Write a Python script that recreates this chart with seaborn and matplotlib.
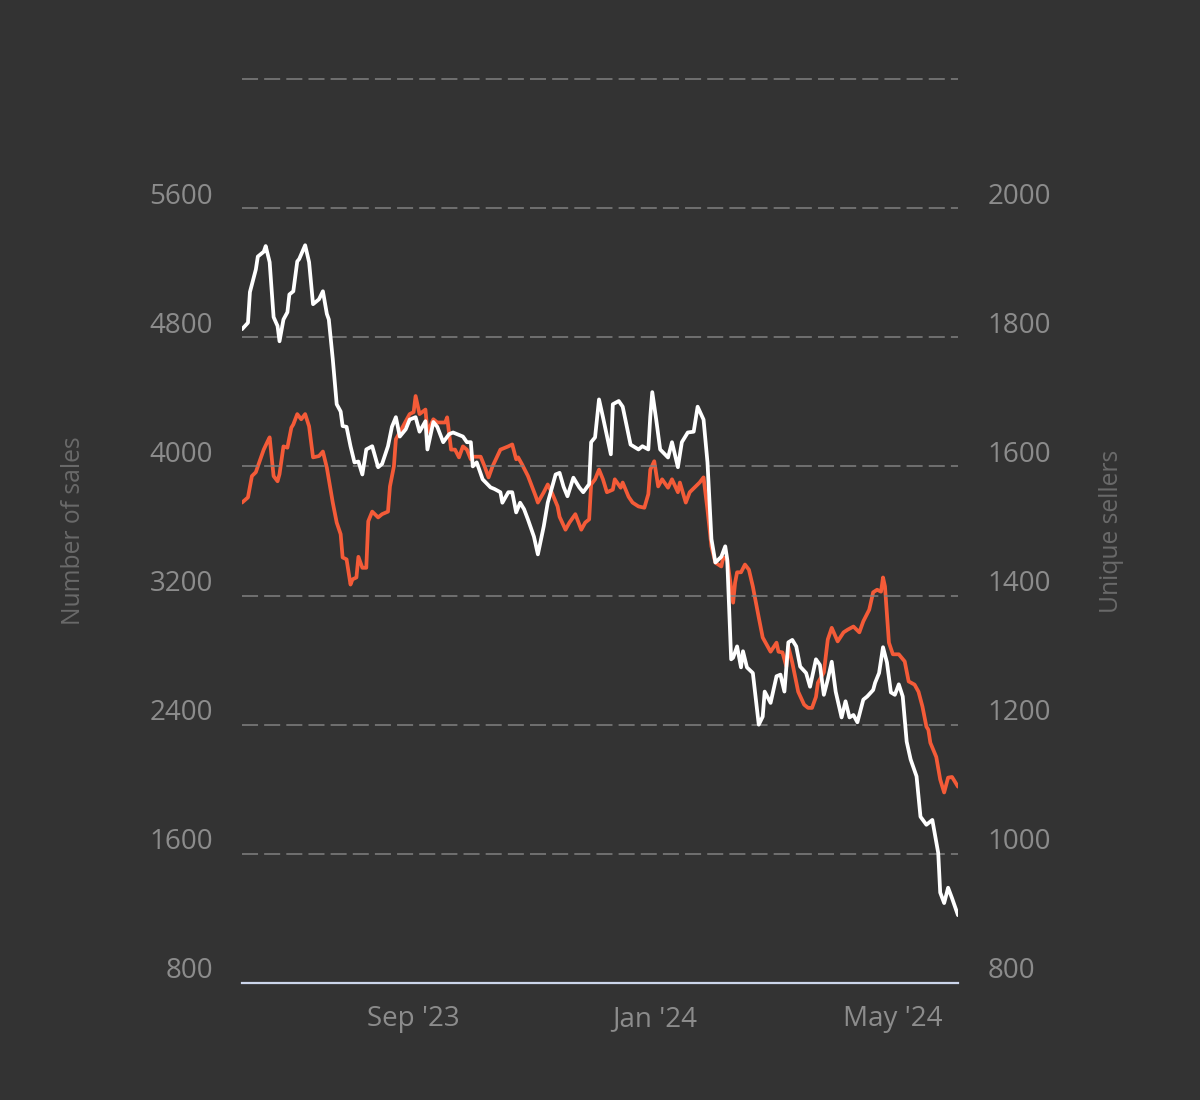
import pandas as pd
import seaborn as sns
import matplotlib.pyplot as plt
import matplotlib.dates as mdates
from matplotlib.transforms import ScaledTranslation

# day offsets from the first day of the series
start = pd.Timestamp("2023-06-06")

sales_day = [0, 3, 4, 7, 8, 11, 12, 14, 16, 18,
             19, 21, 23, 24, 26, 28, 29, 32, 34, 36,
             39, 41, 43, 44, 46, 48, 50, 51, 53, 55,
             57, 59, 61, 63, 66, 69, 71, 74, 76, 78,
             80, 83, 85, 88, 90, 93, 94, 97, 99, 102,
             105, 107, 109, 112, 114, 116, 117, 119, 122, 126,
             128, 131, 132, 135, 137, 139, 141, 143, 145, 148,
             150, 153, 155, 159, 161, 163, 165, 168, 171, 173,
             176, 177, 179, 181, 183, 187, 188, 191, 193, 197,
             201, 203, 206, 207, 208, 210, 212, 216, 218, 221,
             223, 226, 229, 231, 234, 236, 238, 240, 243, 245,
             246, 248, 249, 251, 253, 254, 256, 259, 260, 262,
             264, 265, 268, 271, 273, 275, 277, 279, 281, 283,
             286, 288, 291, 293, 295, 297, 299, 301, 304, 306,
             308, 310, 312, 315, 317, 320, 321, 323, 325, 327,
             329, 331, 333, 335, 337, 339, 342, 344, 347, 348,
             350, 353, 354, 356, 358, 360, 363]
sales = [4850, 4890, 5080, 5220, 5300, 5330, 5365, 5265, 4925, 4870,
         4775, 4910, 4955, 5065, 5085, 5270, 5285, 5370, 5265, 5005,
         5035, 5085, 4945, 4910, 4665, 4385, 4340, 4250, 4245, 4125,
         4025, 4030, 3950, 4105, 4125, 3995, 4015, 4125, 4245, 4305,
         4185, 4230, 4290, 4305, 4215, 4280, 4105, 4275, 4245, 4150,
         4200, 4210, 4200, 4185, 4150, 4150, 4000, 4025, 3920, 3870,
         3860, 3840, 3775, 3840, 3840, 3715, 3775, 3735, 3670, 3565,
         3455, 3630, 3775, 3950, 3960, 3875, 3815, 3930, 3870, 3840,
         3890, 4150, 4180, 4415, 4305, 4075, 4385, 4405, 4370, 4135,
         4105, 4125, 4105, 4310, 4460, 4290, 4105, 4055, 4150, 3995,
         4150, 4210, 4215, 4370, 4290, 4025, 3550, 3405, 3440, 3505,
         3425, 2805, 2815, 2885, 2755, 2855, 2755, 2720, 2615, 2400,
         2450, 2605, 2535, 2700, 2710, 2605, 2910, 2925, 2885, 2760,
         2720, 2635, 2805, 2770, 2585, 2680, 2790, 2605, 2445, 2545,
         2445, 2460, 2415, 2555, 2575, 2615, 2660, 2720, 2880, 2785,
         2600, 2585, 2650, 2575, 2295, 2185, 2080, 1830, 1780, 1790,
         1810, 1605, 1360, 1295, 1390, 1325, 1220]

sellers_day = [0, 3, 5, 7, 8, 11, 13, 14, 16, 18,
               19, 21, 23, 25, 26, 28, 30, 32, 34, 36,
               39, 41, 43, 46, 48, 50, 51, 53, 55, 56,
               58, 59, 61, 63, 64, 66, 69, 71, 74, 75,
               77, 78, 80, 83, 85, 87, 88, 90, 93, 94,
               97, 99, 103, 104, 106, 108, 110, 112, 114, 116,
               117, 121, 123, 125, 127, 131, 135, 137, 139, 140,
               142, 145, 149, 150, 153, 155, 157, 160, 161, 164,
               166, 169, 172, 174, 176, 177, 179, 181, 183, 185,
               188, 189, 192, 193, 196, 198, 201, 204, 206, 207,
               209, 211, 213, 216, 218, 221, 222, 225, 227, 230,
               232, 234, 236, 238, 240, 243, 244, 246, 249, 250,
               251, 253, 255, 257, 259, 260, 262, 264, 268, 271,
               272, 274, 276, 277, 279, 282, 285, 287, 289, 291,
               292, 295, 297, 299, 302, 305, 307, 310, 313, 315,
               318, 320, 322, 324, 325, 326, 328, 330, 333, 336,
               338, 341, 343, 345, 347, 348, 349, 352, 354, 356,
               358, 360, 363]
sellers = [1544, 1552, 1585, 1591, 1600, 1626, 1639, 1645, 1585, 1577,
           1588, 1631, 1629, 1660, 1665, 1681, 1673, 1681, 1662, 1614,
           1616, 1623, 1598, 1544, 1513, 1495, 1459, 1456, 1417, 1425,
           1428, 1460, 1443, 1443, 1515, 1530, 1521, 1526, 1530, 1569,
           1600, 1642, 1653, 1670, 1681, 1684, 1709, 1681, 1688, 1653,
           1673, 1668, 1668, 1676, 1626, 1626, 1614, 1631, 1626, 1611,
           1615, 1615, 1600, 1583, 1600, 1626, 1631, 1634, 1611, 1614,
           1603, 1585, 1553, 1544, 1560, 1572, 1560, 1538, 1522, 1502,
           1513, 1526, 1502, 1513, 1518, 1572, 1580, 1595, 1580, 1560,
           1564, 1580, 1567, 1575, 1553, 1544, 1538, 1536, 1557, 1595,
           1608, 1569, 1580, 1567, 1580, 1560, 1575, 1544, 1560, 1569,
           1575, 1583, 1533, 1476, 1451, 1445, 1459, 1456, 1389, 1420,
           1436, 1436, 1448, 1440, 1414, 1398, 1366, 1335, 1313, 1327,
           1313, 1312, 1290, 1321, 1296, 1251, 1231, 1226, 1226, 1243,
           1265, 1281, 1332, 1350, 1329, 1343, 1347, 1352, 1343, 1360,
           1378, 1405, 1409, 1406, 1428, 1414, 1327, 1309, 1309, 1298,
           1267, 1262, 1251, 1228, 1197, 1192, 1172, 1150, 1115, 1095,
           1118, 1119, 1104]

sales_ticks = [800, 1600, 2400, 3200, 4000, 4800, 5600, 6400]
sellers_ticks = [800, 1000, 1200, 1400, 1600, 1800, 2000, 2200]
month_ticks = ["2023-09-01", "2024-01-01", "2024-05-01"]

df_sales = pd.DataFrame({"date": start + pd.to_timedelta(sales_day, unit="D"), "sales": sales})
df_sellers = pd.DataFrame({"date": start + pd.to_timedelta(sellers_day, unit="D"), "sellers": sellers})

bg = "#333333"
tick_col = "#8c8c8c"
title_col = "#6a6a6a"

sns.set_style("dark", {"axes.facecolor": bg, "figure.facecolor": bg})
plt.rcParams["font.family"] = ["Open Sans", "DejaVu Sans"]

fig = plt.figure(figsize=(12, 11), dpi=100)
fig.patch.set_facecolor(bg)
ax = fig.add_axes([0.2017, 0.1064, 0.5966, 0.8218])
ax2 = ax.twinx()

sns.lineplot(data=df_sellers, x="date", y="sellers", ax=ax2, color="#f45b38", lw=2.7)
sns.lineplot(data=df_sales, x="date", y="sales", ax=ax, color="white", lw=2.7)

# white line on top of orange
ax.set_zorder(ax2.get_zorder() + 1)
ax.patch.set_visible(False)

ax.set_xlim(start, start + pd.Timedelta(days=363))
ax.set_ylim(800, 6400)
ax2.set_ylim(800, 2200)

ax.set_xticks(pd.to_datetime(month_ticks))
ax.xaxis.set_major_formatter(mdates.DateFormatter("%b '%y"))

ax.set_yticks(sales_ticks)
ax.set_yticklabels([str(v) for v in sales_ticks[:-1]] + [""])
ax2.set_yticks(sellers_ticks)
ax2.set_yticklabels([str(v) for v in sellers_ticks[:-1]] + [""])

ax.tick_params(axis="x", length=0, pad=16, labelsize=20, labelcolor=tick_col)
ax.tick_params(axis="y", length=0, pad=21, labelsize=20, labelcolor=tick_col)
ax2.tick_params(axis="y", length=0, pad=21, labelsize=20, labelcolor=tick_col)

# labels sit a little above their gridline
shift = ScaledTranslation(0, 0.15, fig.dpi_scale_trans)
for lab in ax.get_yticklabels() + ax2.get_yticklabels():
    lab.set_transform(lab.get_transform() + shift)

ax.grid(False)
ax2.grid(False)
ax.yaxis.grid(True, color="#808080", lw=1.1, linestyle=(0, (10.5, 4.0)))
for i, gl in enumerate(ax.get_ygridlines()):
    gl.set_clip_on(False)
    if i == 0:
        gl.set_visible(False)

for a in (ax, ax2):
    for s in a.spines.values():
        s.set_visible(False)
ax.spines["bottom"].set_visible(True)
ax.spines["bottom"].set_color("#ccd6eb")
ax.spines["bottom"].set_linewidth(1.6)

ax.set_xlabel("")
ax.set_ylabel("Number of sales", fontsize=17.7, color=title_col)
ax.yaxis.set_label_coords(-0.235, 0.5)
ax.yaxis.label.set_va("center")
ax2.set_ylabel("Unique sellers", fontsize=17.7, color=title_col)
ax2.yaxis.set_label_coords(1.215, 0.5)
ax2.yaxis.label.set_va("center")

fig.savefig("out.png", dpi=100, facecolor=bg)
